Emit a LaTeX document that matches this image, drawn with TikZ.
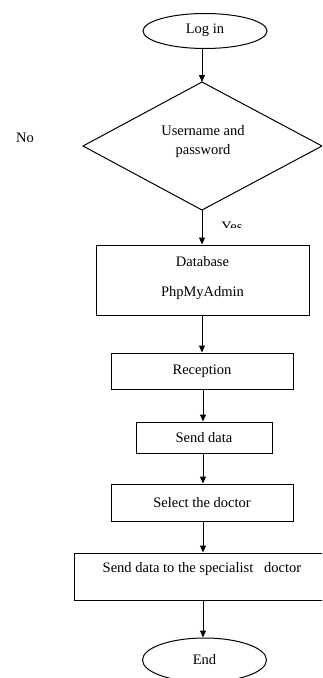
\documentclass[tikz,border=0pt]{standalone}
\usepackage{fontspec}
\setmainfont{Liberation Serif}
\usetikzlibrary{arrows.meta,shapes.geometric}
\begin{document}
\begin{tikzpicture}[x=1pt,y=-1pt,
  every node/.style={font=\fontsize{14.5}{17}\selectfont, inner sep=0pt},
  box/.style={draw, line width=1pt, rectangle},
  oval/.style={draw, line width=1pt, ellipse},
  flow/.style={line width=1pt, -{Triangle[length=7pt,width=6pt]}}]
\useasboundingbox (0,0) rectangle (322,678);
\clip (0,0) rectangle (322,678);
% nodes
\node[oval, minimum width=124pt, minimum height=35pt] (login) at (205,31) {};
\node (logintxt) at (205,30) {Log in};
\coordinate (dtop) at (202,82);
\coordinate (dleft) at (83,146);
\coordinate (dright) at (322,146);
\coordinate (dbot) at (202,210);
\draw[line width=1pt] (dtop) -- (dright) -- (dbot) -- (dleft) -- cycle;
\node (dtxt1) at (203,131) {Username and};
\node (dtxt2) at (203,151) {password};
\node (no) at (25,138) {No};
\begin{scope}
\clip (200,210) rectangle (280,227);
\node (yes) at (232,227) {Yes};
\end{scope}
\node[box, minimum width=213pt, minimum height=70pt] (db) at (202.5,280) {};
\node (dbt1) at (202.5,262) {Database};
\node (dbt2) at (202.5,293) {PhpMyAdmin};
\node[box, minimum width=182pt, minimum height=36pt] (rec) at (202,371) {Reception};
\node[box, minimum width=136pt, minimum height=31pt] (send) at (204,437.5) {Send data};
\node[box, minimum width=182pt, minimum height=37pt] (sel) at (202,502.5) {Select the doctor};
\node[box, minimum width=249pt, minimum height=47pt] (spec) at (198.5,576.5) {};
\node (spect) at (202,569) {Send data to the specialist \ \ doctor};
\node[oval, minimum width=124pt, minimum height=44pt] (endn) at (204.5,660) {};
\node (endt) at (204.5,660) {End};
\coordinate (l1) at (202,48.5);
\coordinate (a1) at (203,0);
% connectors
\draw[flow] (l1) -- (dtop);
\draw[flow] (dbot) -- (dbot |- db.north);
\draw[flow] (db.south -| dbot) -- (dbot |- rec.north);
\draw[flow] (rec.south -| a1) -- (a1 |- send.north);
\draw[flow] (send.south -| a1) -- (a1 |- sel.north);
\draw[flow] (sel.south -| a1) -- (a1 |- spec.north);
\draw[flow] (spec.south -| a1) -- (a1 |- endn.north);
\end{tikzpicture}
\end{document}
